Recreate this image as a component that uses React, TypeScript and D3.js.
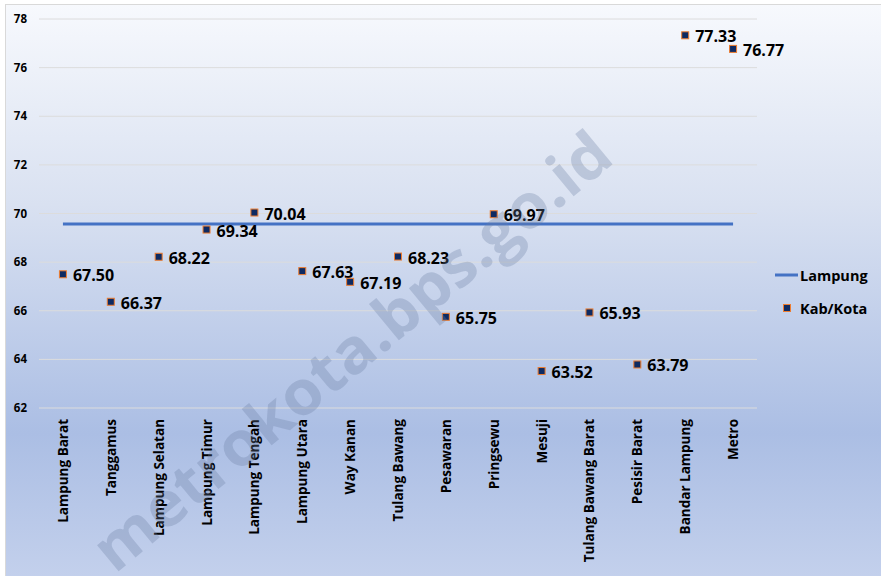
import React from 'react';
import * as d3 from 'd3';

const categories = [
  'Lampung Barat', 'Tanggamus', 'Lampung Selatan', 'Lampung Timur', 'Lampung Tengah',
  'Lampung Utara', 'Way Kanan', 'Tulang Bawang', 'Pesawaran', 'Pringsewu',
  'Mesuji', 'Tulang Bawang Barat', 'Pesisir Barat', 'Bandar Lampung', 'Metro',
];
const kabKota = [67.5, 66.37, 68.22, 69.34, 70.04, 67.63, 67.19, 68.23, 65.75, 69.97, 63.52, 65.93, 63.79, 77.33, 76.77];
const lampung = 69.57;
const yTicks = [62, 64, 66, 68, 70, 72, 74, 76, 78];

const W = 881;
const H = 576;
const font = "'Open Sans', 'Noto Sans', sans-serif";

export default function App() {
  const x = d3.scaleBand().domain(categories).range([39, 757]);
  const y = d3.scaleLinear().domain([62, 78]).range([408, 19]);
  const cx = (c: string) => (x(c) as number) + x.bandwidth() / 2;

  const line = d3.line<string>()
    .x(d => cx(d))
    .y(() => y(lampung));

  return (
    <div style={{ position: 'fixed', left: 0, top: 0 }}>
      <svg width={W} height={H} style={{ display: 'block' }}>
        <defs>
          <linearGradient id="bg" x1="0" y1="0" x2="0" y2="1">
            <stop offset="0" stopColor="#f7f9fd" />
            <stop offset="0.35" stopColor="#d9e1f1" />
            <stop offset="0.75" stopColor="#abbee4" />
            <stop offset="1" stopColor="#c3d0ec" />
          </linearGradient>
        </defs>
        <rect x={0} y={0} width={W} height={H} fill="#ffffff" />
        <rect x={5.5} y={4.5} width={W - 5} height={H - 4} fill="url(#bg)" stroke="#d9d9d9" />

        {/* gridlines and y labels */}
        {yTicks.map(t => (
          <g key={t}>
            <line x1={39} x2={757} y1={y(t)} y2={y(t)} stroke="#dcdcdc" strokeWidth={1} />
            <text x={27} y={y(t) + 4} textAnchor="end" fontFamily={font} fontWeight="bold" fontSize={11.5} fill="#000">{t}</text>
          </g>
        ))}

        {/* category labels */}
        {categories.map(c => (
          <text key={c} transform={`translate(${cx(c) + 5},419) rotate(-90)`} textAnchor="end"
            fontFamily={font} fontWeight="bold" fontSize={13.5} fill="#000">{c}</text>
        ))}

        {/* Lampung line */}
        <path d={line(categories) || ''} fill="none" stroke="#4472c4" strokeWidth={3} />

        {/* Kab/Kota markers and labels */}
        {categories.map((c, i) => (
          <g key={c}>
            <rect x={cx(c) - 3.5} y={y(kabKota[i]) - 3.5} width={7} height={7} fill="#0e2a62" stroke="#ed7d31" strokeWidth={1} />
            <text x={cx(c) + 10} y={y(kabKota[i]) + 7} fontFamily={font} fontWeight="bold" fontSize={16} fill="#000">
              {kabKota[i].toFixed(2)}
            </text>
          </g>
        ))}

        {/* legend */}
        <line x1={775} x2={798} y1={275} y2={275} stroke="#4472c4" strokeWidth={3} />
        <text x={800} y={281} fontFamily={font} fontWeight="bold" fontSize={14.5} fill="#000">Lampung</text>
        <rect x={783.5} y={304.5} width={7} height={7} fill="#0e2a62" stroke="#ed7d31" strokeWidth={1} />
        <text x={800} y={314} fontFamily={font} fontWeight="bold" fontSize={14.5} fill="#000">Kab/Kota</text>

        {/* watermark */}
        <text transform="translate(355,355) rotate(-39.5)" textAnchor="middle" dominantBaseline="middle"
          fontFamily={font} fontWeight="bold" fontSize={62} fill="#6a7ea3" fillOpacity={0.3}
          textLength={650} lengthAdjust="spacingAndGlyphs">metrokota.bps.go.id</text>
      </svg>
    </div>
  );
}
